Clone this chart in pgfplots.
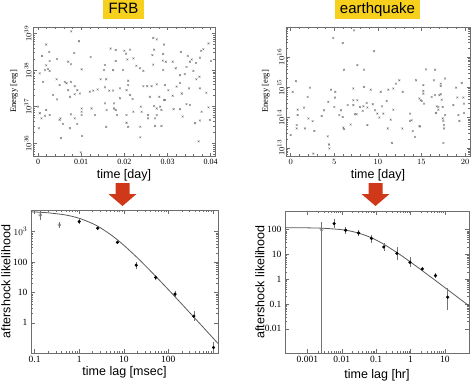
\documentclass[border=0pt]{standalone}
\usepackage{pgfplots}
\pgfplotsset{compat=1.18}
\usepackage{fontspec}
\setmainfont{Liberation Serif}
\setsansfont{Liberation Sans}
\definecolor{tyellow}{RGB}{246,208,28}
\definecolor{tred}{RGB}{208,56,26}
\definecolor{frame}{RGB}{110,110,110}
\pgfplotsset{
  panel/.style={scale only axis, anchor=south west,
    axis line style={frame}, every tick/.style={frame, line width=0.4pt},
    clip=true, scaled ticks=false,
    label style={font=\fontsize{12.5}{14}\sffamily},
    xlabel style={anchor=center, inner sep=0pt},
    ylabel style={anchor=center, inner sep=0pt},
  },
  toppanel/.style={panel, width=182pt, height=129pt,
    tick label style={font=\fontsize{8}{9}\selectfont},
    yticklabel style={rotate=90, anchor=south, inner sep=1.5pt},
    ylabel style={font=\fontsize{8.5}{9}\selectfont},
    xlabel style={at={(axis description cs:0.5,-0.147)}},
    minor x tick num=4,
    major tick length=3.5pt, minor tick length=2pt,
  },
  botpanel/.style={panel, height=142pt,
    tick label style={font=\fontsize{9.5}{10}\selectfont},
    major tick length=4pt, minor tick length=2.2pt,
  },
}
\begin{document}
\begin{tikzpicture}[x=1pt,y=1pt]
\path[use as bounding box] (0pt,0pt) rectangle (474pt,384pt);

% ---------- titles ----------
\node[fill=tyellow, inner xsep=5.5pt, inner ysep=0pt, text height=12pt, text depth=4pt, minimum height=19pt,
      font=\fontsize{15}{16}\sffamily] at (123.5pt,374.5pt) {FRB};
\node[fill=tyellow, inner xsep=5pt, inner ysep=0pt, text height=12pt, text depth=4pt, minimum height=19pt,
      font=\fontsize{15}{16}\sffamily] at (377.5pt,374.5pt) {earthquake};

% ---------- arrows ----------
\fill[tred] (115.5pt,201pt) -- (129.5pt,201pt) -- (129.5pt,190pt) -- (136.5pt,190pt) -- (122.5pt,178pt) -- (108.5pt,190pt) -- (115.5pt,190pt) -- cycle;
\fill[tred] (368.5pt,201pt) -- (382.5pt,201pt) -- (382.5pt,190pt) -- (389.5pt,190pt) -- (375.5pt,178pt) -- (361.5pt,190pt) -- (368.5pt,190pt) -- cycle;

% ---------- top left: FRB energies ----------
\begin{axis}[toppanel, at={(33pt,228pt)},
  xmin=-0.00116, xmax=0.041, ymin=35.65, ymax=39.18,
  xtick={0,0.01,0.02,0.03,0.04}, xticklabels={0,0.01,0.02,0.03,0.04},
  ytick={36,37,38,39}, yticklabels={$10^{36}$,$10^{37}$,$10^{38}$,$10^{39}$},
  minor ytick={35.699,35.778,35.845,35.903,35.954,36.301,36.477,36.602,36.699,36.778,36.845,36.903,36.954,37.301,37.477,37.602,37.699,37.778,37.845,37.903,37.954,38.301,38.477,38.602,38.699,38.778,38.845,38.903,38.954},
  xlabel={time [day]}, ylabel={Energy [erg]},
  ylabel style={at={(axis description cs:-0.104,0.5)}}]
\addplot[only marks, mark=x, mark size=1.3pt, black!55] coordinates {
(0.0077,39.06) (0.0095,38.79) (0.0019,38.70) (0.0267,38.88) (0.0275,38.84) (0.0292,38.70) (0.0395,38.73)
(0.0168,38.59) (0.0180,38.55) (0.0200,38.53) (0.0204,38.45) (0.0213,38.56) (0.0269,38.56) (0.0331,38.50)
(0.0378,38.53) (0.0383,38.57) (0.0026,38.50) (0.0084,38.47)
(0.0009,38.39) (0.0122,38.36) (0.0221,38.32) (0.0207,38.29) (0.0265,38.41) (0.0290,38.44) (0.0296,38.23)
(0.0312,38.23) (0.0347,38.39) (0.0356,38.29) (0.0352,38.23) (0.0366,38.20) (0.0375,38.34) (0.0401,38.25)
(0.0027,38.25) (0.0044,38.30) (0.0070,38.23) (0.0076,38.16) (0.0019,38.13) (0.0023,38.03) (0.0004,37.91)
(0.0016,38.00) (0.0027,37.98) (0.0101,38.02) (0.0155,38.14) (0.0180,38.25) (0.0153,38.00) (0.0174,38.00)
(0.0197,38.00) (0.0228,38.12) (0.0236,38.05) (0.0244,37.98) (0.0267,38.15) (0.0289,38.26) (0.0290,38.00)
(0.0319,38.05) (0.0329,37.86) (0.0344,38.09) (0.0360,37.98) (0.0374,37.82) (0.0340,37.89)
(0.0012,37.68) (0.0043,37.75) (0.0050,37.59) (0.0062,37.68) (0.0066,37.64) (0.0076,37.68) (0.0085,37.56)
(0.0070,37.45) (0.0091,37.45) (0.0097,37.36) (0.0085,37.34) (0.0074,37.27) (0.0035,37.32) (0.0044,37.20)
(0.0120,37.41) (0.0128,37.44) (0.0138,37.47) (0.0145,37.75) (0.0158,37.75) (0.0155,37.53) (0.0165,37.44)
(0.0174,37.44) (0.0190,37.50) (0.0209,37.71) (0.0209,37.59) (0.0205,37.45) (0.0213,37.32) (0.0219,37.21)
(0.0190,37.23) (0.0244,37.56) (0.0253,37.56) (0.0263,37.56) (0.0275,37.61) (0.0294,37.59) (0.0302,37.45)
(0.0312,37.30) (0.0321,37.55) (0.0329,37.65) (0.0333,37.36) (0.0350,37.50) (0.0367,37.75) (0.0375,37.50)
(0.0390,37.38) (0.0292,37.18) (0.0281,37.27) (0.0259,37.27)
(0.0000,37.00) (0.0004,36.82) (0.0008,36.68) (0.0002,36.41) (0.0019,36.91) (0.0027,36.77) (0.0016,36.75)
(0.0052,36.68) (0.0050,36.64) (0.0076,36.79) (0.0085,36.68) (0.0101,36.95) (0.0101,36.86) (0.0101,36.77)
(0.0091,36.53) (0.0074,36.41) (0.0058,36.53) (0.0124,36.95) (0.0132,36.77) (0.0155,37.09) (0.0159,36.91)
(0.0158,36.45) (0.0176,37.09) (0.0176,36.95) (0.0180,36.91) (0.0183,36.77) (0.0205,36.77) (0.0205,36.56)
(0.0209,36.45) (0.0221,36.86) (0.0238,37.00) (0.0240,36.86) (0.0237,36.45) (0.0255,36.77) (0.0255,36.68)
(0.0269,37.02) (0.0275,36.95) (0.0275,36.77) (0.0271,36.68) (0.0283,37.00) (0.0286,36.91) (0.0286,36.47)
(0.0271,36.47) (0.0294,37.18) (0.0314,36.93) (0.0329,36.93) (0.0335,36.73) (0.0344,37.07) (0.0352,37.05)
(0.0364,36.55) (0.0375,36.62) (0.0379,36.86) (0.0395,36.98) (0.0398,36.64)
(0.0053,36.14) (0.0102,36.20) (0.0237,36.16) (0.0372,36.05) (0.0099,35.75)
};
\end{axis}

% ---------- top right: earthquake energies ----------
\begin{axis}[toppanel, at={(286pt,228pt)}, width=184pt,
  xmin=-0.535, xmax=20.57, ymin=12.73, ymax=16.99,
  xtick={0,5,10,15,20},
  ytick={13,14,15,16}, yticklabels={$10^{13}$,$10^{14}$,$10^{15}$,$10^{16}$},
  minor ytick={12.778,12.845,12.903,12.954,13.301,13.477,13.602,13.699,13.778,13.845,13.903,13.954,14.301,14.477,14.602,14.699,14.778,14.845,14.903,14.954,15.301,15.477,15.602,15.699,15.778,15.845,15.903,15.954,16.301,16.477,16.602,16.699,16.778,16.845,16.903,16.954},
  xlabel={time [day]}, ylabel={Energy [erg]},
  ylabel style={at={(axis description cs:-0.109,0.5)}}]
\addplot[only marks, mark=x, mark size=1.3pt, black!55] coordinates {
(7.27,16.88) (4.89,16.63) (5.97,16.46) (9.56,16.19) (7.65,15.73) (6.12,15.58) (8.41,15.58) (15.53,15.59)
(16.56,15.58) (0.61,15.20) (0.23,14.85) (2.22,14.99) (1.95,14.68) (4.63,14.92) (5.12,14.85) (5.08,14.66)
(4.32,14.52) (5.01,14.35) (3.82,14.24) (1.53,14.33) (0.80,14.26) (0.80,14.08) (0.69,13.64) (0.69,13.75)
(1.64,13.64) (2.03,13.97) (2.52,13.88) (2.72,13.56) (0.00,13.42) (3.56,14.05) (4.25,13.38) (4.40,13.11)
(4.44,12.98) (2.60,12.81) (5.58,14.08) (5.97,14.02) (6.04,13.67) (6.12,13.62) (5.77,14.24) (6.54,14.41)
(7.19,14.57) (7.19,14.41) (7.38,14.11) (7.57,14.11) (7.65,14.57) (6.88,13.77) (7.19,14.96) (8.41,15.01)
(8.34,14.37) (8.72,14.48) (8.80,14.33) (8.80,13.75) (8.26,14.22) (9.18,14.92) (9.41,14.44) (9.68,14.24)
(9.94,14.13) (10.17,14.00) (10.33,14.85) (10.48,14.37) (10.63,14.13) (11.20,14.92) (11.01,14.55)
(11.13,13.64) (11.47,13.93) (11.62,13.16) (11.78,14.26) (11.78,14.96) (12.08,15.12) (12.46,15.23)
(12.85,14.85) (12.81,13.64) (13.69,14.13) (13.69,13.89) (14.00,13.55) (14.26,13.36) (14.38,15.23)
(13.88,13.91) (14.76,14.63) (14.91,14.57) (14.76,13.71) (14.84,13.71) (15.03,14.55) (15.22,14.88)
(15.22,14.79) (15.30,14.46) (15.22,15.07) (16.17,14.68) (16.44,15.23) (16.56,14.74) (16.75,14.37)
(16.67,14.15) (16.94,14.35) (17.06,14.74) (17.21,14.77) (17.21,15.04) (17.21,15.12) (17.32,14.59)
(17.44,14.35) (17.44,13.97) (17.51,13.89) (17.59,13.75) (17.59,13.64) (17.71,14.08) (17.71,15.29)
(17.51,13.16) (16.94,14.26) (18.97,14.99) (19.12,14.66) (19.24,14.08) (19.35,13.89) (19.62,15.14)
(19.81,14.66) (19.89,14.46) (19.89,14.15) (18.66,14.41) (7.95,14.35)
};
\end{axis}

% ---------- bottom left: FRB aftershock likelihood ----------
\begin{loglogaxis}[botpanel, at={(31pt,31pt)}, width=187pt, height=143pt,
  xmin=0.083, xmax=1300, ymin=0.102, ymax=5130,
  xtick={0.1,1,10,100,1000}, xticklabels={0.1,1,10,100,},
  ytick={1,10,100,1000}, yticklabels={1,10,100,$10^3$},
  xlabel={time lag [msec]}, ylabel={aftershock likelihood},
  xlabel style={at={(axis description cs:0.5,-0.133)}},
  ylabel style={at={(axis description cs:-0.134,0.5)}},
  unbounded coords=jump]
\addplot[black!65, line width=0.8pt, smooth, no marks] coordinates {
(0.083,4461) (0.1,4414) (0.2,4155) (0.5,3511) (1,2743) (2,1835) (3,1331) (5,810) (7,555) (10,358)
(20,140) (30,77.6) (50,36.0) (100,12.4) (200,4.16) (300,2.18) (500,0.97) (1000,0.32) (1300,0.21)};
\addplot[black!55, line width=0.5pt, no marks] coordinates {
(0.134,2400) (0.134,5250) (0.134,nan)
(0.36,1290) (0.36,2140) (0.36,nan)
(1.0,1740) (1.0,2630) (1.0,nan)
(2.6,1170) (2.6,1420) (2.6,nan)
(7.2,390) (7.2,505) (7.2,nan)
(19,61) (19,102) (19,nan)
(52,25) (52,38) (52,nan)
(141,6.8) (141,11.4) (141,nan)
(373,1.13) (373,2.43) (373,nan)
(1030,0.08) (1030,0.23)};
\addplot[only marks, mark=o, mark size=1.6pt, black!55, mark options={fill=white}] coordinates {(0.134,3540) (0.36,1660)};
\addplot[only marks, mark=*, mark size=1.4pt, black] coordinates {
(1.0,2130) (2.6,1290) (7.2,445) (19,79) (52,31) (141,8.8) (373,1.66) (1030,0.155)};
\end{loglogaxis}

% ---------- bottom right: earthquake aftershock likelihood ----------
\begin{loglogaxis}[botpanel, at={(285pt,31pt)}, width=184pt, height=142pt,
  xmin=0.000224, xmax=50, ymin=0.00107, ymax=560,
  xtick={0.001,0.01,0.1,1,10}, xticklabels={0.001,0.01,0.1,1,10},
  ytick={0.01,0.1,1,10,100}, yticklabels={0.01,0.1,1,10,100},
  xlabel={time lag [hr]}, ylabel={aftershock likelihood},
  xlabel style={at={(axis description cs:0.5,-0.155)}},
  ylabel style={at={(axis description cs:-0.136,0.5)}},
  unbounded coords=jump]
\addplot[black!65, line width=0.8pt, smooth, no marks] coordinates {
(0.000224,119.5) (0.001,117.5) (0.003,112.9) (0.01,99.1) (0.02,84.3) (0.05,57.9) (0.1,37.9) (0.2,22.1)
(0.5,9.68) (1,4.90) (2,2.43) (5,0.943) (10,0.458) (20,0.222) (50,0.085)};
\addplot[black!55, line width=0.5pt, no marks] coordinates {
(0.0026,0.0001) (0.0026,205) (0.0026,nan)
(0.0060,117) (0.0060,257) (0.0060,nan)
(0.013,69) (0.013,126) (0.013,nan)
(0.031,54) (0.031,99) (0.031,nan)
(0.073,30) (0.073,63) (0.073,nan)
(0.167,14) (0.167,29) (0.167,nan)
(0.40,5.9) (0.40,20) (0.40,nan)
(0.96,3.0) (0.96,7.6) (0.96,nan)
(2.2,2.1) (2.2,3.1) (2.2,nan)
(5.3,1.1) (5.3,1.75) (5.3,nan)
(12,0.056) (12,0.44)};
\addplot[only marks, mark=o, mark size=1.6pt, black!55, mark options={fill=white}] coordinates {(0.0026,100)};
\addplot[only marks, mark=*, mark size=1.4pt, black] coordinates {
(0.0060,174) (0.013,94) (0.031,73) (0.073,44) (0.167,20) (0.40,11) (0.96,4.8) (2.2,2.6) (5.3,1.4) (12,0.19)};
\end{loglogaxis}
\end{tikzpicture}
\end{document}
